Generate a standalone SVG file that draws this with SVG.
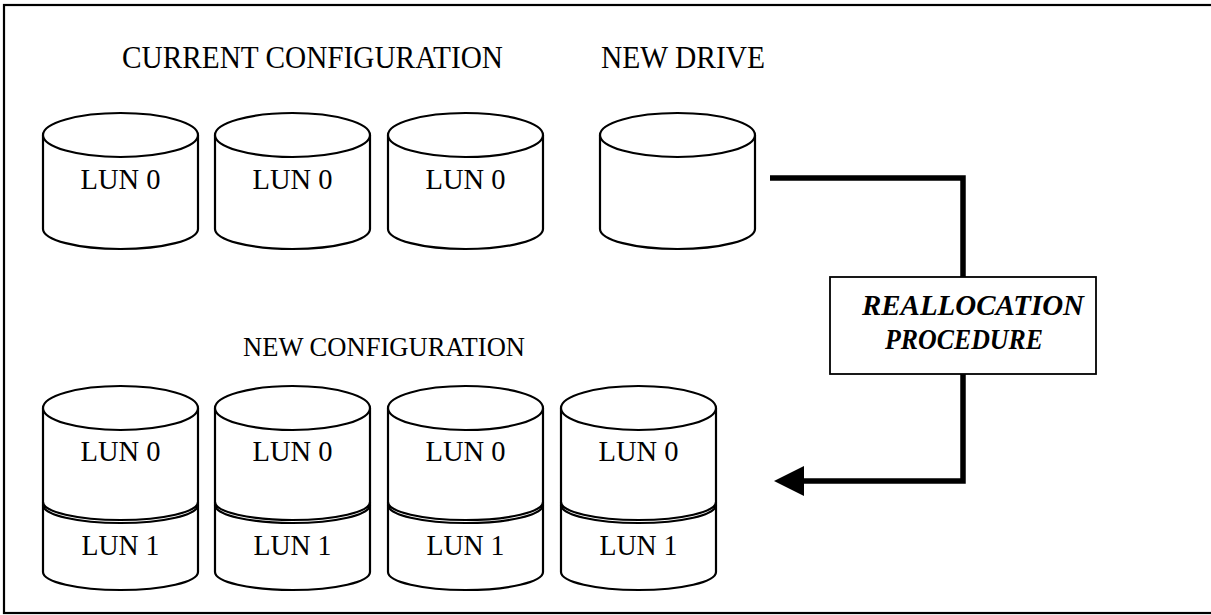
<svg xmlns="http://www.w3.org/2000/svg" width="1211" height="615" viewBox="0 0 1211 615">
<style>
.cyl{fill:#fff;stroke:#000;stroke-width:2.2}
.arc{fill:none;stroke:#000;stroke-width:2.2}
.t{font-family:"Liberation Serif","Times New Roman",serif;fill:#000}
.lun{font-size:30px;text-anchor:middle}
.title{font-size:31px}
.bi{font-size:29px;font-weight:bold;font-style:italic;text-anchor:middle}
.conn{fill:none;stroke:#000;stroke-width:5.5;stroke-linejoin:miter}
</style>
<defs>
<marker id="ah" markerUnits="userSpaceOnUse" markerWidth="32" markerHeight="32" refX="2" refY="15" orient="auto">
<polygon points="0,0 30,15 0,30" fill="#000"/>
</marker>
</defs>
<rect x="4" y="5" width="1212" height="608" fill="#fff" stroke="#000" stroke-width="2.2"/>

<text class="t title" x="122" y="68" textLength="381" lengthAdjust="spacingAndGlyphs">CURRENT CONFIGURATION</text>
<text class="t title" x="601" y="68" textLength="164" lengthAdjust="spacingAndGlyphs">NEW DRIVE</text>
<text class="t" x="243" y="356" font-size="28" textLength="282" lengthAdjust="spacingAndGlyphs">NEW CONFIGURATION</text>

<g id="cur1">
<path class="cyl" d="M43,135 V229 A77.5,20 0 0 0 198,229 V135"/>
<ellipse class="cyl" cx="120.5" cy="135" rx="77.5" ry="22"/>
<text class="t lun" x="120.5" y="189" textLength="80" lengthAdjust="spacingAndGlyphs">LUN 0</text>
</g>
<g id="cur2">
<path class="cyl" d="M215,135 V229 A77.5,20 0 0 0 370,229 V135"/>
<ellipse class="cyl" cx="292.5" cy="135" rx="77.5" ry="22"/>
<text class="t lun" x="292.5" y="189" textLength="80" lengthAdjust="spacingAndGlyphs">LUN 0</text>
</g>
<g id="cur3">
<path class="cyl" d="M388,135 V229 A77.5,20 0 0 0 543,229 V135"/>
<ellipse class="cyl" cx="465.5" cy="135" rx="77.5" ry="22"/>
<text class="t lun" x="465.5" y="189" textLength="80" lengthAdjust="spacingAndGlyphs">LUN 0</text>
</g>
<g id="newdrive">
<path class="cyl" d="M600,135 V229 A77.5,20 0 0 0 755,229 V135"/>
<ellipse class="cyl" cx="677.5" cy="135" rx="77.5" ry="22"/>
</g>

<g id="new1">
<path class="cyl" d="M43,408 V572 A77.5,18 0 0 0 198,572 V408"/>
<ellipse class="cyl" cx="120.5" cy="408" rx="77.5" ry="22"/>
<path class="arc" d="M43,502 A77.5,18 0 0 0 198,502 M43,505 A77.5,18 0 0 0 198,505"/>
<text class="t lun" x="120.5" y="461" textLength="80" lengthAdjust="spacingAndGlyphs">LUN 0</text>
<text class="t lun" x="120.5" y="555" textLength="78" lengthAdjust="spacingAndGlyphs">LUN 1</text>
</g>
<g id="new2">
<path class="cyl" d="M215,408 V572 A77.5,18 0 0 0 370,572 V408"/>
<ellipse class="cyl" cx="292.5" cy="408" rx="77.5" ry="22"/>
<path class="arc" d="M215,502 A77.5,18 0 0 0 370,502 M215,505 A77.5,18 0 0 0 370,505"/>
<text class="t lun" x="292.5" y="461" textLength="80" lengthAdjust="spacingAndGlyphs">LUN 0</text>
<text class="t lun" x="292.5" y="555" textLength="78" lengthAdjust="spacingAndGlyphs">LUN 1</text>
</g>
<g id="new3">
<path class="cyl" d="M388,408 V572 A77.5,18 0 0 0 543,572 V408"/>
<ellipse class="cyl" cx="465.5" cy="408" rx="77.5" ry="22"/>
<path class="arc" d="M388,502 A77.5,18 0 0 0 543,502 M388,505 A77.5,18 0 0 0 543,505"/>
<text class="t lun" x="465.5" y="461" textLength="80" lengthAdjust="spacingAndGlyphs">LUN 0</text>
<text class="t lun" x="465.5" y="555" textLength="78" lengthAdjust="spacingAndGlyphs">LUN 1</text>
</g>
<g id="new4">
<path class="cyl" d="M561,408 V572 A77.5,18 0 0 0 716,572 V408"/>
<ellipse class="cyl" cx="638.5" cy="408" rx="77.5" ry="22"/>
<path class="arc" d="M561,502 A77.5,18 0 0 0 716,502 M561,505 A77.5,18 0 0 0 716,505"/>
<text class="t lun" x="638.5" y="461" textLength="80" lengthAdjust="spacingAndGlyphs">LUN 0</text>
<text class="t lun" x="638.5" y="555" textLength="78" lengthAdjust="spacingAndGlyphs">LUN 1</text>
</g>

<g id="connectors">
<path class="conn" d="M770,178 H963 V277"/>
<path class="conn" d="M963,374 V481 H802" marker-end="url(#ah)"/>
</g>

<g id="realloc">
<rect x="830" y="277" width="266" height="97" fill="#fff" stroke="#000" stroke-width="1.8"/>
<text class="t bi" x="973" y="315" textLength="222" lengthAdjust="spacingAndGlyphs">REALLOCATION</text>
<text class="t bi" x="964" y="349" textLength="158" lengthAdjust="spacingAndGlyphs">PROCEDURE</text>
</g>
</svg>
